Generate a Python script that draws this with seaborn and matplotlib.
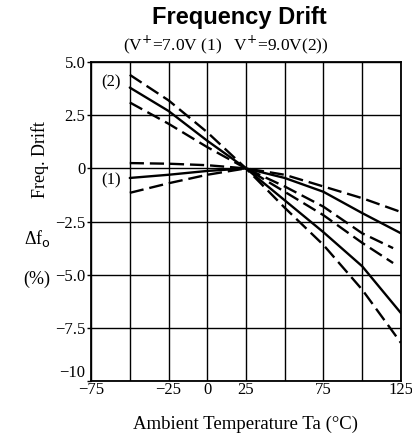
import matplotlib
matplotlib.use("Agg")
import matplotlib.pyplot as plt
import seaborn as sns
import pandas as pd

# Values
temps = [-50, -25, 0, 25, 50, 75, 100, 125]
temps_short = [-50, -25, 0, 25, 50, 75, 100, 120]

# (1) V+ = 7.0V
v7_upper = [0.25, 0.22, 0.15, 0.0, -0.3, -0.85, -1.4, -2.05]
v7_typ = [-0.45, -0.3, -0.12, 0.0, -0.45, -1.1, -2.1, -3.05]
v7_lower = [-1.15, -0.7, -0.3, 0.0, -0.85, -1.8, -3.05, -3.75]

# (2) V+ = 9.0V
v9_upper = [4.4, 3.2, 1.7, 0.0, -1.85, -3.6, -5.7, -8.2]
v9_typ = [3.8, 2.7, 1.3, 0.0, -1.5, -3.0, -4.6, -6.8]
v9_lower = [3.1, 2.1, 1.0, 0.0, -1.1, -2.2, -3.5, -4.45]

xticks = [-75, -50, -25, 0, 25, 50, 75, 100, 125]
xticklabels = ["\u221275", "", "\u221225", "0", "25", "", "75", "", "125"]
yticks = [5.0, 2.5, 0, -2.5, -5.0, -7.5, -10]
yticklabels = ["5.0", "2.5", "0", "\u22122.5", "\u22125.0", "\u22127.5", "\u221210"]

curves = [
    ("v7_upper", temps, v7_upper, "dashed"),
    ("v7_typ", temps, v7_typ, "solid"),
    ("v7_lower", temps_short, v7_lower, "dashed"),
    ("v9_upper", temps, v9_upper, "dashed"),
    ("v9_typ", temps, v9_typ, "solid"),
    ("v9_lower", temps_short, v9_lower, "dashed"),
]

sns.set_style("white")
plt.rcParams["text.color"] = "black"
plt.rcParams["xtick.color"] = "black"
plt.rcParams["ytick.color"] = "black"
serif = ["Liberation Serif", "DejaVu Serif"]

fig = plt.figure(figsize=(4.12, 4.37), dpi=100)
ax = fig.add_axes([0.221, 0.128, 0.752, 0.73])

for name, x, y, style in curves:
    df = pd.DataFrame({"Ta": x, "drift": y})
    sns.lineplot(data=df, x="Ta", y="drift", ax=ax, color="black",
                 linewidth=1.7, estimator=None, sort=False)
    ln = ax.lines[-1]
    if style == "dashed":
        ln.set_dashes([6, 2.5])

ax.set_xlim(-75, 125)
ax.set_ylim(-10, 5)
ax.set_xticks(xticks)
ax.set_xticklabels(xticklabels, family=serif, fontsize=12)
ax.set_yticks(yticks)
ax.set_yticklabels(yticklabels, family=serif, fontsize=12)
ax.get_yticklabels()[-1].set_va("bottom")
ax.grid(True, color="black", linewidth=1.0)
ax.tick_params(axis="x", length=0, pad=1)
ax.tick_params(axis="y", length=3, width=1, color="black", pad=1, left=True)
for sp in ax.spines.values():
    sp.set_color("black")
    sp.set_linewidth(1.3)
ax.set_xlabel("")
ax.set_ylabel("")

ax.text(-62, 4.05, "(2)", family=serif, fontsize=12, ha="center", va="center")
ax.text(-62, -0.55, "(1)", family=serif, fontsize=12, ha="center", va="center")

fig.text(0.582, 0.961, "Frequency Drift", family=["Liberation Sans", "DejaVu Sans"],
         fontweight="bold", fontsize=17, ha="center", va="center")
fig.text(0.548, 0.897, "(V$^{+}$=7.0V (1)   V$^{+}$=9.0V(2))", family=serif,
         fontsize=12.5, ha="center", va="center")
fig.text(0.595, 0.028, "Ambient Temperature Ta (\u00b0C)", family=serif,
         fontsize=13.5, ha="center", va="center")
fig.text(0.097, 0.635, "Freq. Drift", family=serif, fontsize=13,
         rotation=90, ha="center", va="center")
fig.text(0.09, 0.455, "\u0394f$_{\\mathrm{o}}$", family=serif, fontsize=13,
         ha="center", va="center")
fig.text(0.09, 0.36, "(%)", family=serif, fontsize=13, ha="center", va="center")

plt.savefig("out.png", dpi=100)
